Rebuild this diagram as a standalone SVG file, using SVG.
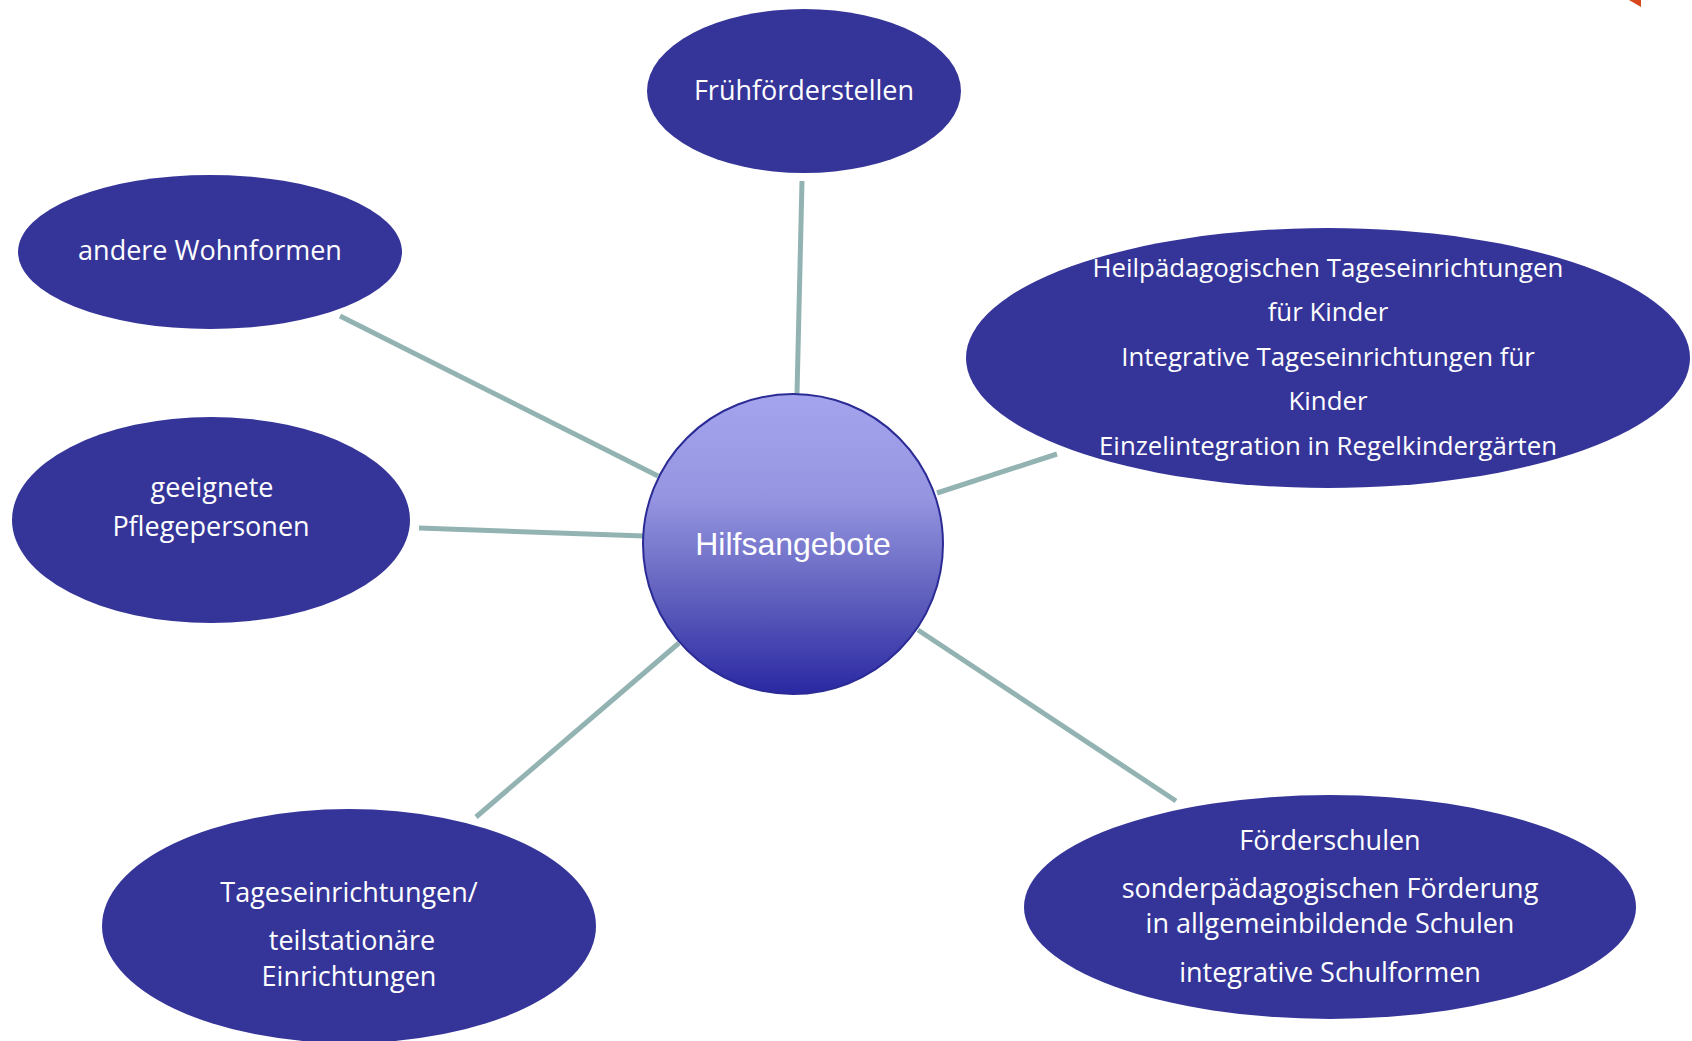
<svg xmlns="http://www.w3.org/2000/svg" width="1692" height="1041" viewBox="0 0 1692 1041">
<defs>
<linearGradient id="cg" x1="0" y1="0" x2="0" y2="1">
<stop offset="0" stop-color="#A4A4EE"/>
<stop offset="0.35" stop-color="#9494E0"/>
<stop offset="0.65" stop-color="#6464C0"/>
<stop offset="1" stop-color="#2A28A2"/>
</linearGradient>
<style>
.n{fill:#353599;}
.t{font-family:"Open Sans","Noto Sans",sans-serif;font-size:27px;fill:#ffffff;text-anchor:middle;}
.s{font-size:25.8px;}
.c{stroke:#93B3B3;stroke-width:5;fill:none;}
</style>
</defs>
<rect width="1692" height="1041" fill="#ffffff"/>
<polygon points="1629,0 1641,0 1641,7" fill="#D8461B"/>
<g id="connectors">
<line class="c" x1="802" y1="181" x2="797" y2="394"/>
<line class="c" x1="340" y1="316" x2="658" y2="476"/>
<line class="c" x1="419" y1="528" x2="644" y2="536"/>
<line class="c" x1="937" y1="493" x2="1057" y2="454"/>
<line class="c" x1="918" y1="630" x2="1176" y2="801"/>
<line class="c" x1="679" y1="643" x2="476" y2="817"/>
</g>
<g id="center">
<circle cx="793" cy="544" r="150" fill="url(#cg)" stroke="#2B2B96" stroke-width="2"/>
<text x="793" y="555" style="font-family:'Liberation Sans',Arial,sans-serif;font-size:32px;fill:#fff;text-anchor:middle">Hilfsangebote</text>
</g>
<g id="fruehfoerderstellen">
<ellipse class="n" cx="804" cy="91" rx="157" ry="82"/>
<text class="t" x="804" y="100">Frühförderstellen</text>
</g>
<g id="wohnformen">
<ellipse class="n" cx="210" cy="252" rx="192" ry="77"/>
<text class="t" x="210" y="260">andere Wohnformen</text>
</g>
<g id="pflegepersonen">
<ellipse class="n" cx="211" cy="520" rx="199" ry="103"/>
<text class="t" x="212" y="497">geeignete</text>
<text class="t" x="211" y="536">Pflegepersonen</text>
</g>
<g id="tageseinrichtungen">
<ellipse class="n" cx="349" cy="926" rx="247" ry="117"/>
<text class="t" x="349" y="902">Tageseinrichtungen/</text>
<text class="t" x="352" y="950">teilstationäre</text>
<text class="t" x="349" y="986">Einrichtungen</text>
</g>
<g id="heilpaedagogisch">
<ellipse class="n" cx="1328" cy="358" rx="362" ry="130"/>
<text class="t s" x="1328" y="277">Heilpädagogischen Tageseinrichtungen</text>
<text class="t s" x="1328" y="321">für Kinder</text>
<text class="t s" x="1328" y="366">Integrative Tageseinrichtungen für</text>
<text class="t s" x="1328" y="410">Kinder</text>
<text class="t s" x="1328" y="455">Einzelintegration in Regelkindergärten</text>
</g>
<g id="foerderschulen">
<ellipse class="n" cx="1330" cy="907" rx="306" ry="112"/>
<text class="t" x="1330" y="850">Förderschulen</text>
<text class="t" x="1330" y="898">sonderpädagogischen Förderung</text>
<text class="t" x="1330" y="933">in allgemeinbildende Schulen</text>
<text class="t" x="1330" y="982">integrative Schulformen</text>
</g>
</svg>
